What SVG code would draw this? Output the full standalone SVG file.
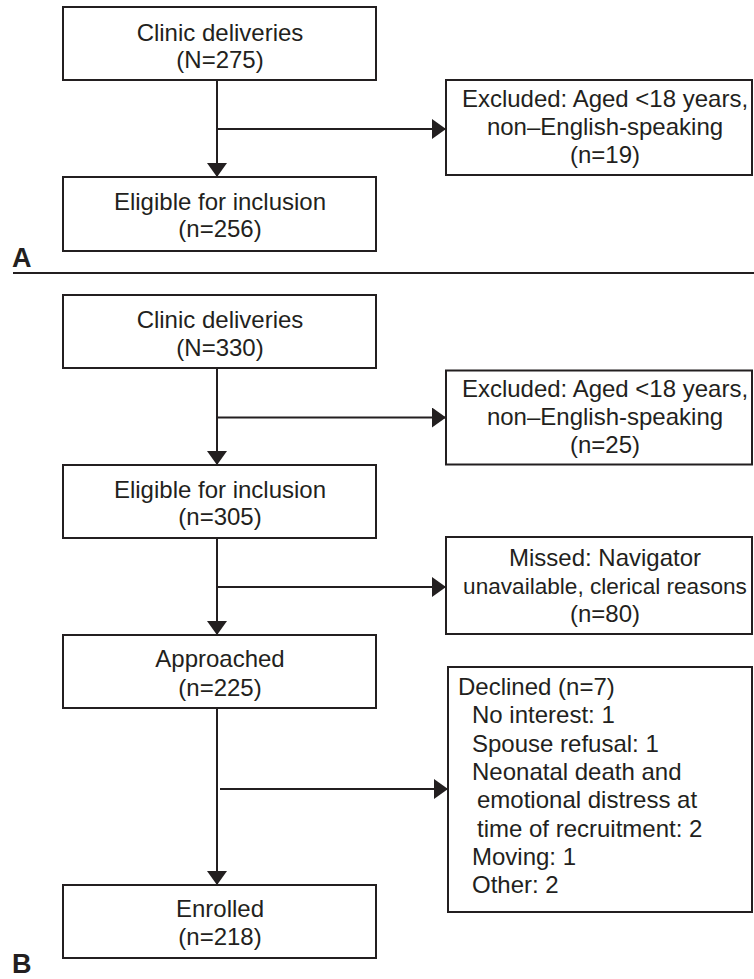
<svg xmlns="http://www.w3.org/2000/svg" width="754" height="979" viewBox="0 0 754 979">
<style>
.box{fill:#fff;stroke:#231f20;stroke-width:2}
.t{font-family:"Liberation Sans",Arial,sans-serif;font-size:24px;fill:#231f20}
.c{text-anchor:middle}
.lbl{font-family:"Liberation Sans",Arial,sans-serif;font-size:27px;font-weight:bold;fill:#231f20}
.ln{stroke:#231f20;stroke-width:2;fill:none}
</style>
<defs>
<marker id="ah" markerUnits="userSpaceOnUse" markerWidth="14" markerHeight="20" refX="14" refY="10" orient="auto" viewBox="0 0 14 20">
<path d="M0,0 L14,10 L0,20 z" fill="#231f20"/>
</marker>
</defs>
<rect width="754" height="979" fill="#fff"/>

<g id="connectors">
<line class="ln" x1="217" y1="80" x2="217" y2="177" marker-end="url(#ah)"/>
<line class="ln" x1="217" y1="129" x2="446" y2="129" marker-end="url(#ah)"/>
<line class="ln" x1="217" y1="368" x2="217" y2="465" marker-end="url(#ah)"/>
<line class="ln" x1="217" y1="417.5" x2="446" y2="417.5" marker-end="url(#ah)"/>
<line class="ln" x1="217" y1="538" x2="217" y2="635" marker-end="url(#ah)"/>
<line class="ln" x1="217" y1="587" x2="446" y2="587" marker-end="url(#ah)"/>
<line class="ln" x1="217" y1="708" x2="217" y2="885" marker-end="url(#ah)"/>
<line class="ln" x1="220" y1="789" x2="448" y2="789" marker-end="url(#ah)"/>
</g>

<g id="divider">
<line x1="13" y1="273" x2="754" y2="273" stroke="#231f20" stroke-width="2"/>
<text class="lbl" x="12" y="267">A</text>
<text class="lbl" x="12" y="973">B</text>
</g>

<g id="a-clinic">
<rect class="box" x="63" y="7" width="313" height="73"/>
<text class="t c" x="220" y="41">Clinic deliveries</text>
<text class="t c" x="220" y="68">(N=275)</text>
</g>
<g id="a-excluded">
<rect class="box" x="446" y="80" width="306" height="95"/>
<text class="t c" x="605" y="107">Excluded: Aged &lt;18 years,</text>
<text class="t c" x="605" y="135">non–English-speaking</text>
<text class="t c" x="605" y="163">(n=19)</text>
</g>
<g id="a-eligible">
<rect class="box" x="63" y="177" width="313" height="74"/>
<text class="t c" x="220" y="210">Eligible for inclusion</text>
<text class="t c" x="220" y="237">(n=256)</text>
</g>

<g id="b-clinic">
<rect class="box" x="63" y="295" width="313" height="73"/>
<text class="t c" x="220" y="328">Clinic deliveries</text>
<text class="t c" x="220" y="356">(N=330)</text>
</g>
<g id="b-excluded">
<rect class="box" x="446" y="370.5" width="306" height="94"/>
<text class="t c" x="605" y="397">Excluded: Aged &lt;18 years,</text>
<text class="t c" x="605" y="425">non–English-speaking</text>
<text class="t c" x="605" y="453">(n=25)</text>
</g>
<g id="b-eligible">
<rect class="box" x="63" y="465" width="313" height="73"/>
<text class="t c" x="220" y="498">Eligible for inclusion</text>
<text class="t c" x="220" y="525">(n=305)</text>
</g>
<g id="b-missed">
<rect class="box" x="446" y="537" width="306" height="97"/>
<text class="t c" x="605" y="566">Missed: Navigator</text>
<text class="t c" x="605" y="594" style="font-size:22.6px">unavailable, clerical reasons</text>
<text class="t c" x="605" y="622">(n=80)</text>
</g>
<g id="b-approached">
<rect class="box" x="63" y="635" width="313" height="73"/>
<text class="t c" x="220" y="667">Approached</text>
<text class="t c" x="220" y="696">(n=225)</text>
</g>
<g id="b-declined">
<rect class="box" x="448" y="667" width="304" height="245"/>
<text class="t" x="458" y="695">Declined (n=7)</text>
<text class="t" x="472" y="723">No interest: 1</text>
<text class="t" x="472" y="751.5">Spouse refusal: 1</text>
<text class="t" x="472" y="780">Neonatal death and</text>
<text class="t" x="477" y="808">emotional distress at</text>
<text class="t" x="477" y="836.5">time of recruitment: 2</text>
<text class="t" x="472" y="865">Moving: 1</text>
<text class="t" x="472" y="893">Other: 2</text>
</g>
<g id="b-enrolled">
<rect class="box" x="63" y="885" width="313" height="73"/>
<text class="t c" x="220" y="917">Enrolled</text>
<text class="t c" x="220" y="945">(n=218)</text>
</g>
</svg>
